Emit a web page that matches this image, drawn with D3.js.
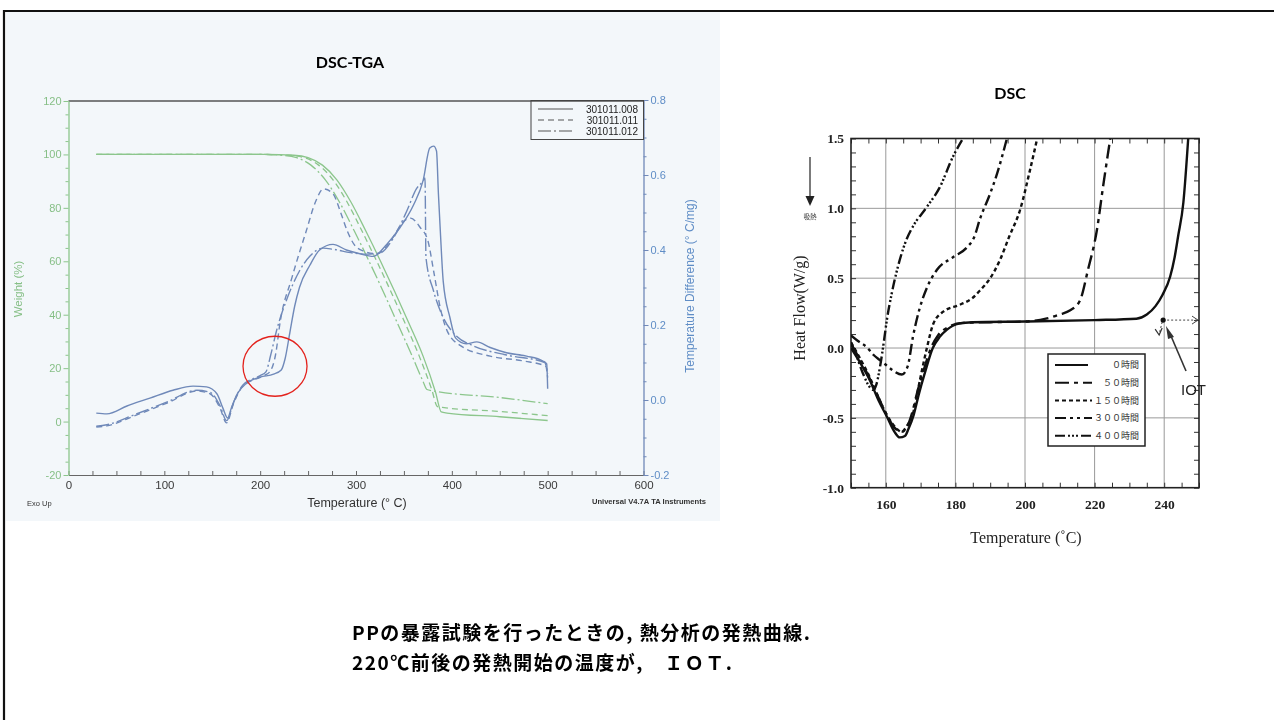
<!DOCTYPE html>
<html>
<head>
<meta charset="utf-8">
<script src="https://cdn.jsdelivr.net/npm/d3@7"></script>
<style>
html, body { margin: 0; padding: 0; background: #fff; }
svg { display: block; }
</style>
</head>
<body>
<svg id="slide" width="1274" height="720"></svg>
<script>
// ---------- DSC-TGA : weight loss (%) for three runs ----------
const sampleIds = ["301011.008", "301011.011", "301011.012"];

const tga008 = [[29,100],[200,100],[235,99.7],[250,98.8],[265,96],[280,90.5],[295,82],[310,71.5],[325,60.5],[340,49],[355,37],[370,24.5],[383,11],[389,3.6],[395,3.2],[450,1.8],[500,0.4]];
const tga011 = [[29,100],[200,100],[230,99.7],[246,98.8],[261,96],[276,90.5],[291,82],[306,71.5],[321,60.5],[336,49],[351,37],[366,24.5],[379,12],[385,5.6],[392,5.2],[450,3.8],[500,2.2]];
const tga012 = [[29,100],[200,100],[222,99.7],[238,98.8],[253,96],[268,90.5],[283,82],[298,71.5],[313,60.5],[328,49],[343,37],[358,25],[370,15],[374,12],[380,11.5],[450,9],[500,6.7]];

// ---------- DSC-TGA : temperature difference (°C/mg) ----------
const dta008 = [[29,-0.035],[40,-0.037],[61,-0.016],[85,0.005],[109,0.026],[130,0.037],[144,0.035],[155,0.016],[161,-0.021],[166,-0.048],[170,-0.021],[176,0.016],[186,0.045],[200,0.061],[214,0.069],[222,0.08],[226,0.11],[231,0.18],[236,0.25],[241,0.30],[252,0.36],[262,0.40],[276,0.415],[290,0.40],[304,0.39],[318,0.383],[332,0.415],[346,0.46],[360,0.52],[370,0.585],[377,0.672],[381,0.677],[384,0.664],[386,0.55],[388,0.45],[391,0.317],[398,0.22],[404,0.165],[415,0.15],[426,0.155],[440,0.14],[457,0.126],[478,0.117],[495,0.104],[499,0.096],[500,0.03]];
const dta011 = [[29,-0.072],[40,-0.069],[68,-0.043],[103,-0.008],[134,0.024],[148,0.016],[158,-0.021],[165,-0.061],[172,-0.011],[182,0.037],[203,0.064],[210,0.075],[216,0.12],[221,0.21],[233,0.325],[248,0.45],[258,0.53],[266,0.563],[276,0.55],[284,0.50],[291,0.45],[298,0.415],[308,0.397],[322,0.39],[336,0.424],[350,0.477],[357,0.485],[367,0.46],[375,0.425],[381,0.344],[388,0.245],[395,0.185],[409,0.145],[440,0.117],[475,0.104],[498,0.09],[500,0.06]];
const dta012 = [[29,-0.07],[40,-0.066],[68,-0.04],[103,-0.005],[134,0.026],[148,0.02],[158,-0.015],[165,-0.055],[172,-0.008],[182,0.04],[200,0.065],[206,0.075],[211,0.12],[217,0.184],[228,0.27],[241,0.344],[252,0.384],[266,0.405],[276,0.402],[297,0.392],[311,0.389],[325,0.392],[339,0.432],[353,0.504],[363,0.563],[370,0.584],[372,0.592],[373,0.38],[381,0.29],[391,0.22],[405,0.17],[422,0.145],[457,0.12],[497,0.1],[500,0.07]];

const tempTicks = [0, 100, 200, 300, 400, 500, 600];
const weightTicks = [-20, 0, 20, 40, 60, 80, 100, 120];
const diffTicks = [-0.2, 0.0, 0.2, 0.4, 0.6, 0.8];

// ---------- DSC : heat flow (W/g) after exposure time ----------
const dscHours = ["０時間", "５０時間", "１５０時間", "３００時間", "４００時間"];

const hf000 = [[150,0.0],[152.5,-0.1],[155.4,-0.23],[158,-0.38],[160.3,-0.49],[162.5,-0.6],[164,-0.64],[165.5,-0.63],[166.5,-0.58],[168,-0.48],[169.5,-0.33],[171.2,-0.18],[173.5,0.0],[175.5,0.08],[177.5,0.13],[181,0.175],[185,0.185],[200,0.19],[220,0.2],[232,0.21],[235,0.24],[237.5,0.3],[239.5,0.38],[241.7,0.51],[243,0.65],[244,0.8],[245.5,1.04],[246.9,1.5]];
const hf050 = [[150,0.03],[152.5,-0.08],[155.4,-0.22],[158,-0.36],[160.3,-0.48],[162.5,-0.57],[164.5,-0.6],[166,-0.57],[167.5,-0.47],[169,-0.32],[171,-0.15],[173,0.0],[175,0.09],[178,0.15],[182,0.18],[190,0.185],[200,0.19],[206,0.21],[210,0.24],[213,0.27],[215.8,0.34],[218.1,0.56],[220.7,0.85],[222.4,1.15],[224.5,1.5]];
const hf150 = [[150,0.04],[152.5,-0.07],[155.4,-0.21],[158,-0.36],[160.3,-0.48],[162.5,-0.56],[164.6,-0.6],[166,-0.56],[167.8,-0.47],[169.8,-0.23],[171.8,0.0],[173.6,0.17],[176.5,0.26],[181.3,0.31],[185,0.36],[187,0.41],[190,0.5],[192.8,0.63],[195.5,0.8],[198.6,0.99],[201.4,1.27],[203.5,1.5]];
const hf300 = [[150,0.09],[152,0.05],[154.5,0.007],[156.5,-0.05],[158.3,-0.086],[160,-0.12],[162,-0.16],[164.6,-0.19],[166.3,-0.13],[167.8,0.08],[169.8,0.29],[171.8,0.43],[174.7,0.56],[179.3,0.65],[183.3,0.72],[185.5,0.8],[187,0.92],[189.9,1.1],[192,1.25],[194.8,1.5]];
const hf400 = [[150,0.04],[151.5,-0.05],[153.4,-0.18],[155.4,-0.28],[156.3,-0.3],[157.3,-0.26],[158.3,-0.14],[159.3,0.02],[160.3,0.2],[161.7,0.39],[164,0.63],[166,0.78],[167.8,0.87],[171.8,1.01],[175.5,1.15],[179.3,1.37],[182.2,1.5]];

const dscTempTicks = [160, 180, 200, 220, 240];
const heatFlowTicks = [-1.0, -0.5, 0.0, 0.5, 1.0, 1.5];
const iotPoint = [239.7, 0.2];

const captionLines = [
  "PPの暴露試験を行ったときの, 熱分析の発熱曲線.",
  "220℃前後の発熱開始の温度が,　ＩＯＴ."
];

// =================================================================
const svg = d3.select("#slide");
const defs = svg.append("defs");
defs.append("filter").attr("id", "soft")
  .append("feGaussianBlur").attr("stdDeviation", 0.35);

svg.append("rect").attr("width", 1274).attr("height", 720).attr("fill", "#fff");

// ------------------------- left: DSC-TGA -------------------------
const L = svg.append("g");
L.append("rect").attr("x", 6).attr("y", 12).attr("width", 714).attr("height", 509).attr("fill", "#f3f7fa");

const LP = L.append("g").attr("filter", "url(#soft)");
const xT = d3.scaleLinear().domain([0, 600]).range([68.5, 643.5]);
const yW = d3.scaleLinear().domain([-20, 120]).range([475, 101]);
const yD = d3.scaleLinear().domain([-0.2, 0.8]).range([475, 100]);

const green = "#8cc68c", greenText = "#86bf86";
const blue = "#6f89b9", blueText = "#5f8dc6";
const sansFont = "'Liberation Sans', Arial, sans-serif";

// top frame line
LP.append("line").attr("x1", xT(0)).attr("x2", xT(600)).attr("y1", yW(120)).attr("y2", yW(120))
  .attr("stroke", "#555").attr("stroke-width", 1.3);

// bottom temperature axis
const gBot = LP.append("g").attr("transform", `translate(0,${yW(-20)})`)
  .call(d3.axisBottom(xT).tickValues(d3.range(0, 601, 25)).tickSizeInner(-4).tickSizeOuter(0).tickPadding(6)
    .tickFormat(d => tempTicks.includes(d) ? d : ""));
gBot.select(".domain").attr("stroke", "#666").attr("stroke-width", 1.2);
gBot.selectAll(".tick line").attr("stroke", "#666");
gBot.selectAll("text").attr("fill", "#3a3a3a").style("font", `11.5px ${sansFont}`);

// left weight axis
const gLeft = LP.append("g").attr("transform", `translate(${xT(0)},0)`)
  .call(d3.axisLeft(yW).tickValues(d3.range(-20, 121, 5)).tickSizeInner(4).tickSizeOuter(0).tickPadding(3)
    .tickFormat(d => weightTicks.includes(d) ? d : ""));
gLeft.select(".domain").attr("stroke", green).attr("stroke-width", 1.3);
gLeft.selectAll(".tick line").attr("stroke", green).attr("x2", d => weightTicks.includes(d) ? -5 : -3);
gLeft.selectAll("text").attr("fill", greenText).style("font", `11px ${sansFont}`);

// right temperature-difference axis (minor step 0.05, labels every 0.2)
const diffMinor = d3.range(-4, 17).map(i => i / 20);
const isMajorDiff = d => Math.round(d * 20) % 4 === 0;
const gRight = LP.append("g").attr("transform", `translate(${xT(600)},0)`)
  .call(d3.axisRight(yD).tickValues(diffMinor).tickSizeInner(4).tickSizeOuter(0).tickPadding(3)
    .tickFormat(d => isMajorDiff(d) ? (Math.round(d * 10) / 10).toFixed(1) : ""));
gRight.select(".domain").attr("stroke", blue).attr("stroke-width", 1.3);
gRight.selectAll(".tick line").attr("stroke", blue).attr("x2", d => isMajorDiff(d) ? 5 : 3);
gRight.selectAll("text").attr("fill", blueText).style("font", `11px ${sansFont}`);

// axis titles
LP.append("text").attr("transform", "translate(22,289) rotate(-90)").attr("text-anchor", "middle")
  .attr("fill", greenText).style("font", `11.5px ${sansFont}`).text("Weight (%)");
LP.append("text").attr("transform", "translate(694,286) rotate(-90)").attr("text-anchor", "middle")
  .attr("fill", blueText).style("font", `12px ${sansFont}`).text("Temperature Difference (°  C/mg)");
LP.append("text").attr("x", 357).attr("y", 507).attr("text-anchor", "middle")
  .attr("fill", "#333").style("font", `12.5px ${sansFont}`).text("Temperature (°  C)");
LP.append("text").attr("x", 27).attr("y", 506)
  .attr("fill", "#333").style("font", `7.5px ${sansFont}`).text("Exo Up");
LP.append("text").attr("x", 706).attr("y", 504).attr("text-anchor", "end")
  .attr("fill", "#333").style("font", `bold 7.6px ${sansFont}`).text("Universal V4.7A TA Instruments");

const dashes = [null, "6,4", "13,3,2,3"];
const lineW = d3.line().x(d => xT(d[0])).y(d => yW(d[1])).curve(d3.curveMonotoneX);
const lineD = d3.line().x(d => xT(d[0])).y(d => yD(d[1])).curve(d3.curveMonotoneX);

[tga008, tga011, tga012].forEach((s, i) => {
  LP.append("path").attr("d", lineW(s)).attr("fill", "none").attr("stroke", green)
    .attr("stroke-width", 1.3).attr("stroke-dasharray", dashes[i]);
});
[dta008, dta011, dta012].forEach((s, i) => {
  LP.append("path").attr("d", lineD(s)).attr("fill", "none").attr("stroke", blue)
    .attr("stroke-width", 1.4).attr("stroke-dasharray", dashes[i]);
});

// legend box
const lg = LP.append("g");
lg.append("rect").attr("x", 531).attr("y", 100.5).attr("width", 112.5).attr("height", 39)
  .attr("fill", "none").attr("stroke", "#444").attr("stroke-width", 1);
sampleIds.forEach((id, i) => {
  const yy = 109 + i * 11;
  lg.append("line").attr("x1", 538).attr("x2", 573).attr("y1", yy).attr("y2", yy)
    .attr("stroke", "#555").attr("stroke-width", 1).attr("stroke-dasharray", dashes[i]);
  lg.append("text").attr("x", 638).attr("y", yy + 3.5).attr("text-anchor", "end")
    .attr("fill", "#222").style("font", `10px ${sansFont}`).text(id);
});

// highlight of the onset region
L.append("ellipse").attr("cx", xT(215.5)).attr("cy", yD(0.09)).attr("rx", 32).attr("ry", 30)
  .attr("fill", "none").attr("stroke", "#e3221c").attr("stroke-width", 1.3);

// title
svg.append("text").attr("x", 350).attr("y", 68).attr("text-anchor", "middle")
  .style("font", "bold 16px Lato, 'Open Sans', sans-serif").attr("fill", "#000").text("DSC-TGA");

// ------------------------- right: DSC -------------------------
const R = svg.append("g");
const xC = d3.scaleLinear().domain([150, 250]).range([851, 1199]);
const yH = d3.scaleLinear().domain([-1, 1.5]).range([487.7, 138.5]);
const serif = "'Liberation Serif', 'Times New Roman', serif";

defs.append("clipPath").attr("id", "dscClip").append("rect")
  .attr("x", xC(150)).attr("y", yH(1.5)).attr("width", xC(250) - xC(150)).attr("height", yH(-1) - yH(1.5));

// grid
R.append("g").selectAll("line").data(dscTempTicks).join("line")
  .attr("x1", d => xC(d)).attr("x2", d => xC(d)).attr("y1", yH(1.5)).attr("y2", yH(-1))
  .attr("stroke", "#999").attr("stroke-width", 1);
R.append("g").selectAll("line").data(heatFlowTicks.slice(1, -1)).join("line")
  .attr("x1", xC(150)).attr("x2", xC(250)).attr("y1", d => yH(d)).attr("y2", d => yH(d))
  .attr("stroke", "#999").attr("stroke-width", 1);

const hfMinor = d3.range(-10, 16).map(i => i / 10);
const isMajorHF = d => Math.round(d * 10) % 5 === 0;
const tMinor = d3.range(150, 251, 5);

const gHL = R.append("g").attr("transform", `translate(${xC(150)},0)`)
  .call(d3.axisLeft(yH).tickValues(hfMinor).tickSizeInner(-5).tickSizeOuter(0).tickPadding(7)
    .tickFormat(d => isMajorHF(d) ? (Math.round(d * 10) / 10).toFixed(1) : ""));
const gHR = R.append("g").attr("transform", `translate(${xC(250)},0)`)
  .call(d3.axisRight(yH).tickValues(hfMinor).tickSizeInner(-5).tickSizeOuter(0).tickFormat(""));
const gHB = R.append("g").attr("transform", `translate(0,${yH(-1)})`)
  .call(d3.axisBottom(xC).tickValues(tMinor).tickSizeInner(-5).tickSizeOuter(0).tickPadding(12)
    .tickFormat(d => dscTempTicks.includes(d) ? d : ""));
const gHT = R.append("g").attr("transform", `translate(0,${yH(1.5)})`)
  .call(d3.axisTop(xC).tickValues(tMinor).tickSizeInner(-5).tickSizeOuter(0).tickFormat(""));
[gHL, gHR, gHB, gHT].forEach(g => {
  g.select(".domain").remove();
  g.selectAll(".tick line").attr("stroke", "#333").attr("stroke-width", 1);
  g.selectAll("text").attr("fill", "#222").style("font", `bold 13.5px ${serif}`);
});

R.append("rect").attr("x", xC(150)).attr("y", yH(1.5)).attr("width", xC(250) - xC(150)).attr("height", yH(-1) - yH(1.5))
  .attr("fill", "none").attr("stroke", "#222").attr("stroke-width", 1.6);

// curves
const dscDash = [null, "14,5,4,5", "4,3", "11,4,3,4,3,4", "10,3,2,2,2,2,2,3"];
const lineH = d3.line().x(d => xC(d[0])).y(d => yH(d[1])).curve(d3.curveMonotoneX);
const curves = R.append("g").attr("clip-path", "url(#dscClip)");
[hf000, hf050, hf150, hf300, hf400].forEach((s, i) => {
  curves.append("path").attr("d", lineH(s)).attr("fill", "none").attr("stroke", "#111")
    .attr("stroke-width", 2.4).attr("stroke-dasharray", dscDash[i]);
});

// legend
const lg2 = R.append("g");
lg2.append("rect").attr("x", 1048).attr("y", 354).attr("width", 97).attr("height", 92)
  .attr("fill", "#fff").attr("stroke", "#222").attr("stroke-width", 1.5);
dscHours.forEach((h, i) => {
  const yy = 365 + i * 17.7;
  lg2.append("line").attr("x1", 1055).attr("x2", i === 0 ? 1088 : 1092).attr("y1", yy).attr("y2", yy)
    .attr("stroke", "#111").attr("stroke-width", 2).attr("stroke-dasharray", dscDash[i]);
  lg2.append("text").attr("x", 1139).attr("y", yy + 3.3).attr("text-anchor", "end")
    .attr("fill", "#333").style("font", "9px 'Noto Sans CJK JP', sans-serif").text(h);
});

// axis titles
R.append("text").attr("transform", "translate(805,308) rotate(-90)").attr("text-anchor", "middle")
  .attr("fill", "#222").style("font", `16px ${serif}`).text("Heat Flow(W/g)");
R.append("text").attr("x", 1026).attr("y", 543).attr("text-anchor", "middle")
  .attr("fill", "#222").style("font", `16px ${serif}`).text("Temperature (˚C)");

// endothermic direction marker
R.append("line").attr("x1", 810).attr("x2", 810).attr("y1", 157).attr("y2", 198)
  .attr("stroke", "#222").attr("stroke-width", 1.2);
R.append("path").attr("d", "M805.5,196 L814.5,196 L810,206 Z").attr("fill", "#222");
R.append("text").attr("x", 810).attr("y", 219).attr("text-anchor", "middle")
  .attr("fill", "#333").style("font", "6.5px 'Noto Sans CJK JP', sans-serif").text("吸熱");

// IOT marker
const ix = xC(iotPoint[0]), iy = yH(iotPoint[1]);
R.append("line").attr("x1", ix).attr("x2", xC(250) - 1).attr("y1", iy).attr("y2", iy)
  .attr("stroke", "#444").attr("stroke-width", 1).attr("stroke-dasharray", "2,2");
R.append("path").attr("d", `M${xC(250) - 7},${iy - 4} L${xC(250) - 1},${iy} L${xC(250) - 7},${iy + 4}`)
  .attr("fill", "none").attr("stroke", "#444").attr("stroke-width", 1);
R.append("line").attr("x1", ix - 1).attr("x2", ix - 4).attr("y1", iy + 2).attr("y2", iy + 14)
  .attr("stroke", "#444").attr("stroke-width", 1).attr("stroke-dasharray", "2,2");
R.append("path").attr("d", `M${ix - 8},${iy + 9} L${ix - 4},${iy + 15} L${ix - 1},${iy + 8}`)
  .attr("fill", "none").attr("stroke", "#333").attr("stroke-width", 1.2);
R.append("circle").attr("cx", ix).attr("cy", iy).attr("r", 2.6).attr("fill", "#111");
R.append("line").attr("x1", 1186).attr("x2", 1171).attr("y1", 371).attr("y2", 336)
  .attr("stroke", "#333").attr("stroke-width", 1.6);
R.append("path").attr("d", "M1166,326 L1174,337 L1168,339 Z").attr("fill", "#333");
R.append("text").attr("x", 1181).attr("y", 395).attr("fill", "#222")
  .style("font", `15px ${sansFont}`).text("IOT");

svg.append("text").attr("x", 1010).attr("y", 99).attr("text-anchor", "middle")
  .style("font", "bold 16px Lato, 'Open Sans', sans-serif").attr("fill", "#000").text("DSC");

// ------------------------- caption -------------------------
captionLines.forEach((t, i) => {
  svg.append("text").attr("x", 352).attr("y", 640 + i * 30).attr("fill", "#000")
    .style("font", "bold 19px 'Noto Sans CJK JP', sans-serif").style("letter-spacing", "1.5px").text(t);
});

// slide frame
svg.append("path").attr("d", "M4,720 V11 H1274").attr("fill", "none").attr("stroke", "#111").attr("stroke-width", 2.2);
</script>
</body>
</html>
